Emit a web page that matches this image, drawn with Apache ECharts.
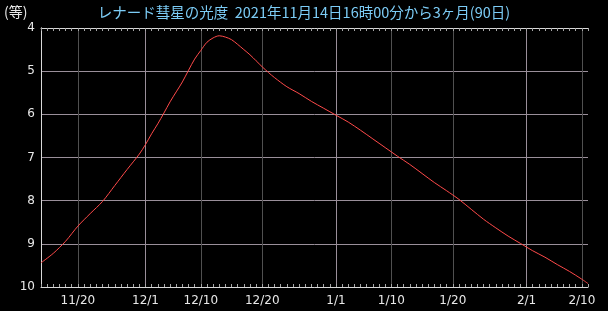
<!DOCTYPE html>
<html>
<head>
<meta charset="utf-8">
<script src="https://cdn.jsdelivr.net/npm/echarts@6/dist/echarts.min.js"></script>
<style>
html,body{margin:0;padding:0;background:#000;}
#c{width:608px;height:311px;}
</style>
</head>
<body>
<div id="c"></div>
<script>
// ---- data ----
const titleText = 'レナード彗星の光度  2021年11月14日16時00分から3ヶ月(90日)';
const unitText = '(等)';
const axisStart = '2021-11-14';
const axisEnd = '2022-02-11';
const dates = [
  '2021-11-14','2021-11-16','2021-11-18','2021-11-20','2021-11-22','2021-11-24','2021-11-26','2021-11-28',
  '2021-11-30','2021-12-01','2021-12-02','2021-12-03','2021-12-04','2021-12-05','2021-12-06','2021-12-07',
  '2021-12-08','2021-12-09','2021-12-10','2021-12-11','2021-12-12','2021-12-13','2021-12-14','2021-12-15',
  '2021-12-16','2021-12-17','2021-12-18','2021-12-19','2021-12-20','2021-12-21','2021-12-22','2021-12-24',
  '2021-12-26','2021-12-28','2021-12-30','2022-01-01','2022-01-03','2022-01-05','2022-01-07','2022-01-09',
  '2022-01-11','2022-01-13','2022-01-15','2022-01-17','2022-01-19','2022-01-21','2022-01-23','2022-01-25',
  '2022-01-27','2022-01-29','2022-01-31','2022-02-02','2022-02-04','2022-02-06','2022-02-08','2022-02-10',
  '2022-02-11'
];
const magnitude = [
  9.44, 9.22, 8.94, 8.59, 8.30, 8.02, 7.65, 7.28,
  6.92, 6.70, 6.45, 6.22, 5.97, 5.71, 5.48, 5.25,
  4.98, 4.72, 4.52, 4.33, 4.23, 4.18, 4.21, 4.27,
  4.38, 4.50, 4.62, 4.76, 4.90, 5.03, 5.15, 5.36,
  5.52, 5.70, 5.86, 6.02, 6.18, 6.37, 6.57, 6.77,
  6.97, 7.16, 7.37, 7.58, 7.77, 7.97, 8.20, 8.43,
  8.63, 8.82, 8.99, 9.16, 9.31, 9.48, 9.64, 9.82,
  9.92
];
const labelDates = ['2021-11-20','2021-12-01','2021-12-10','2021-12-20','2022-01-01','2022-01-10','2022-01-20','2022-02-01','2022-02-10'];
const monthLineDates = ['2021-12-01','2022-01-01','2022-02-01'];
const otherLineDates = ['2021-11-20','2021-12-10','2021-12-20','2022-01-10','2022-01-20','2022-02-10'];
const yMin = 4, yMax = 10, yStep = 1;

// ---- helpers: dates -> day offsets from axisStart ----
function ts(s){ const p = s.split('-').map(Number); return Date.UTC(p[0], p[1]-1, p[2]); }
const DAY = 86400000;
const t0 = ts(axisStart);
function dayOf(s){ return Math.round((ts(s) - t0) / DAY); }
const xMax = dayOf(axisEnd);
function fmtDay(v){ const d = new Date(t0 + Math.round(v) * DAY); return (d.getUTCMonth()+1) + '/' + d.getUTCDate(); }

const lineData = dates.map((d,i)=>[dayOf(d), magnitude[i]]);
const axisColor = '#d8d8d8';
const textColor = '#e8e8e8';
const font = 'DejaVu Sans, sans-serif';

const baseX = {type:'value', min:0, max:xMax, interval:1, gridIndex:0, scale:false};

const chart = echarts.init(document.getElementById('c'), null, {renderer:'canvas'});
chart.setOption({
  backgroundColor:'#000',
  animation:false,
  title:[
    {text:titleText, left:'center', top:5, padding:0,
     textStyle:{color:'#7cccf6', fontSize:14.5, fontWeight:'normal', fontFamily:'Noto Sans CJK JP'}},
    {text:unitText, left:4, top:5, padding:0,
     textStyle:{color:textColor, fontSize:14, fontWeight:'normal', fontFamily:'Noto Sans CJK JP'}}
  ],
  grid:{left:41, right:20, top:28, bottom:24, containLabel:false},
  xAxis:[
    Object.assign({}, baseX, {
      position:'bottom',
      axisLine:{show:true, onZero:false, lineStyle:{color:axisColor, width:1}},
      axisTick:{show:true, inside:true, length:3, lineStyle:{color:'#a8a8a8'}},
      axisLabel:{show:true, customValues:labelDates.map(dayOf), color:textColor, fontSize:12, fontFamily:font, margin:8,
        formatter:function(v){ return fmtDay(v); }},
      splitLine:{show:false}
    }),
    Object.assign({}, baseX, {
      position:'top',
      axisLine:{show:true, onZero:false, lineStyle:{color:axisColor, width:1}},
      axisTick:{show:true, inside:true, length:3, lineStyle:{color:'#a8a8a8'}},
      axisLabel:{show:false},
      splitLine:{show:false}
    }),
    Object.assign({}, baseX, {
      position:'bottom',
      axisLine:{show:false, onZero:false},
      axisTick:{show:false, customValues:otherLineDates.map(dayOf)},
      axisLabel:{show:false},
      splitLine:{show:true, lineStyle:{color:'#505050', width:1}}
    }),
    Object.assign({}, baseX, {
      position:'bottom',
      axisLine:{show:false, onZero:false},
      axisTick:{show:false, customValues:monthLineDates.map(dayOf)},
      axisLabel:{show:false},
      splitLine:{show:true, lineStyle:{color:'#9a8f9a', width:1}}
    })
  ],
  yAxis:[
    {type:'value', inverse:true, min:yMin, max:yMax, interval:yStep, position:'left',
     axisLine:{show:true, lineStyle:{color:axisColor}},
     axisTick:{show:false},
     axisLabel:{color:textColor, fontSize:12, fontFamily:font, margin:6},
     splitLine:{show:true, lineStyle:{color:'#9a8f9a', width:1}}},
    {type:'value', inverse:true, min:yMin, max:yMax, interval:yStep, position:'right',
     axisLine:{show:true, lineStyle:{color:axisColor}},
     axisTick:{show:false}, axisLabel:{show:false}, splitLine:{show:false}}
  ],
  series:[{
    type:'line', xAxisIndex:0, yAxisIndex:0, data:lineData, smooth:0.3,
    showSymbol:false, symbol:'none',
    lineStyle:{color:'#ff4a4a', width:1}, z:5
  }]
});
</script>
</body>
</html>
